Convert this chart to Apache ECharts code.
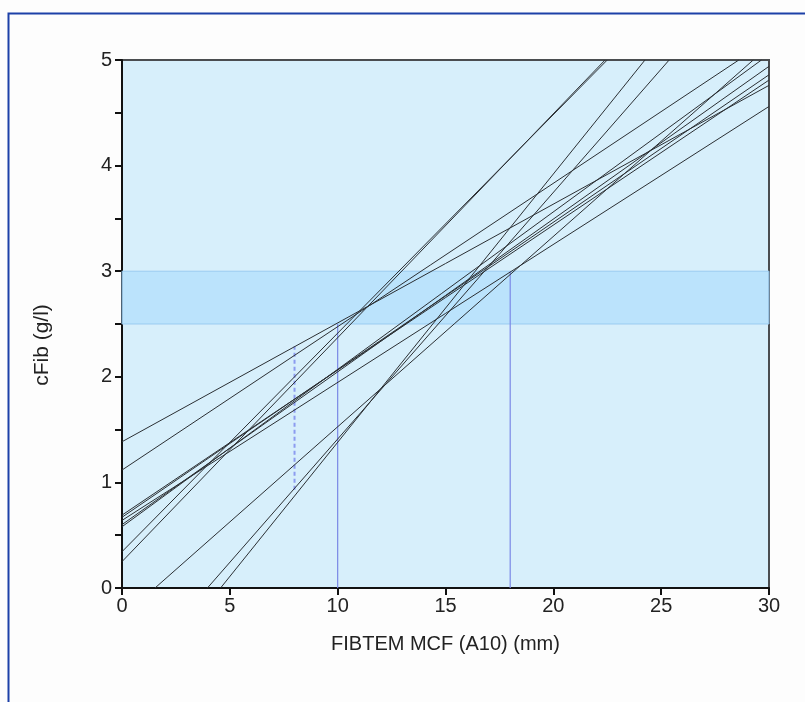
<!DOCTYPE html>
<html>
<head>
<meta charset="utf-8">
<script src="https://cdn.jsdelivr.net/npm/echarts@6/dist/echarts.min.js"></script>
<style>
html,body{margin:0;padding:0;background:#fdfdfd;}
#c{width:805px;height:702px;}
</style>
</head>
<body>
<div id="c"></div>
<script>
// Regression lines: start and end points (data units)
const lineStartX = [0, 0, 0, 0, 4.57, 3.96, 1.53, 0, 0, 0, 0, 0];
const lineStartY = [1.385, 1.117, 0.25, 0.344, 0, 0, 0, 0.69, 0.67, 0.60, 0.58, 0.64];
const lineEndX   = [30, 28.6, 22.4, 22.5, 24.25, 25.37, 29.27, 30, 30, 30, 29.65, 30];
const lineEndY   = [4.76, 5, 5, 5, 5, 5, 5, 4.81, 4.86, 4.94, 5, 4.56];

// Target band (cFib)
const bandLow = 2.5;
const bandHigh = 3.0;

// Reference verticals: x, yFrom, yTo
const refX    = [10, 18];
const refYLow = [0, 0];
const refYHigh= [2.5, 3.0];
const dashedX = 8;
const dashedYLow = 0.93;
const dashedYHigh = 2.29;

const xTicks = [0, 5, 10, 15, 20, 25, 30];
const yTicks = [0, 1, 2, 3, 4, 5];
const xTitle = 'FIBTEM MCF (A10) (mm)';
const yTitle = 'cFib (g/l)';

const chart = echarts.init(document.getElementById('c'), null, {renderer:'canvas'});

const series = [];
series.push({
  type:'line', data:[], silent:true,
  markArea:{
    silent:true,
    itemStyle:{color:'rgba(180,224,252,0.8)', borderColor:'rgba(150,200,240,0.9)', borderWidth:1},
    data:[[{yAxis:bandLow},{yAxis:bandHigh}]]
  }
});
for (let i=0;i<refX.length;i++){
  series.push({
    type:'line', silent:true, symbol:'none', z:3,
    lineStyle:{color:'#7a88e6', width:1.2},
    data:[[refX[i], refYLow[i]],[refX[i], refYHigh[i]]]
  });
}
series.push({
  type:'line', silent:true, symbol:'none', z:3,
  lineStyle:{color:'#8c9cf0', width:2, type:[4,3]},
  data:[[dashedX, dashedYLow],[dashedX, dashedYHigh]]
});
for (let i=0;i<lineStartX.length;i++){
  series.push({
    type:'line', silent:true, symbol:'none', z:4,
    lineStyle:{color:'#2b2f33', width:1},
    data:[[lineStartX[i], lineStartY[i]],[lineEndX[i], lineEndY[i]]]
  });
}

chart.setOption({
  animation:false,
  backgroundColor:'#fdfdfd',
  graphic:[{
    type:'rect', left:6, top:11, shape:{x:0,y:0,width:830,height:720},
    style:{fill:null, stroke:'#1d40a8', lineWidth:2}, z:100
  },{
    type:'text', x:42, y:345, rotation:Math.PI/2,
    style:{text:yTitle, fontFamily:'Liberation Sans', fontSize:21, fill:'#222',
           textAlign:'center', textVerticalAlign:'middle'}
  }],
  grid:{left:122, right:36, top:60, bottom:114, show:true,
        backgroundColor:'#d7effb', borderColor:'#4a4d50', borderWidth:2},
  xAxis:{
    type:'value', min:0, max:30, interval:5,
    name:xTitle, nameLocation:'middle', nameGap:46,
    nameTextStyle:{fontFamily:'Liberation Sans', fontSize:20, color:'#222'},
    axisLine:{show:true, onZero:false, lineStyle:{color:'#111', width:2}},
    axisTick:{show:true, length:7, lineStyle:{color:'#111', width:2}},
    axisLabel:{fontFamily:'Liberation Sans', fontSize:20, color:'#222', margin:8,
      formatter:function(v){return xTicks.indexOf(v)>=0? String(v):'';}},
    splitLine:{show:false}
  },
  yAxis:{
    type:'value', min:0, max:5, interval:1,
    axisLine:{show:true, onZero:false, lineStyle:{color:'#111', width:2}},
    axisTick:{show:true, length:7, lineStyle:{color:'#111', width:2}},
    minorTick:{show:true, splitNumber:2, length:7, lineStyle:{color:'#111', width:2}},
    axisLabel:{fontFamily:'Liberation Sans', fontSize:20, color:'#222', margin:10,
      formatter:function(v){return yTicks.indexOf(v)>=0? String(v):'';}},
    splitLine:{show:false}
  },
  series:series
});
</script>
</body>
</html>
